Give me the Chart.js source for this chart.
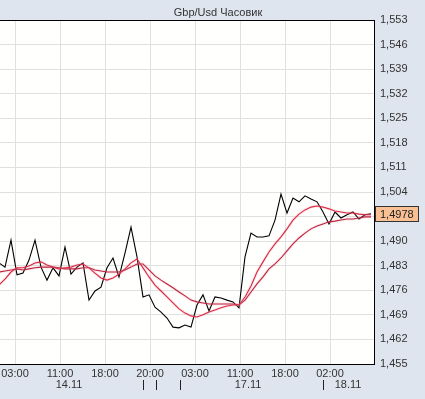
<!DOCTYPE html>
<html>
<head>
<meta charset="utf-8">
<script src="https://cdn.jsdelivr.net/npm/chart.js@4.4.0/dist/chart.umd.min.js"></script>
<style>
  html, body { margin: 0; padding: 0; background: #dfe5ee; }
  #wrap { width: 425px; height: 399px; }
</style>
</head>
<body>
<div id="wrap"><canvas id="chart" width="425" height="399"></canvas></div>
<script>
// Gbp/Usd hourly close + two moving averages
const TITLE = 'Gbp/Usd Часовик';

const PRICE = [
  1.4838, 1.4826, 1.4903, 1.4804, 1.4809, 1.4846, 1.4903, 1.4826, 1.4789, 1.4824,
  1.4801, 1.4883, 1.4806, 1.4826, 1.4838, 1.4732, 1.4758, 1.4769, 1.4824, 1.4852,
  1.4798, 1.4866, 1.4940, 1.4855, 1.4741, 1.4747, 1.4712, 1.4698, 1.4681, 1.4655,
  1.4653, 1.4661, 1.4655, 1.4718, 1.4747, 1.4701, 1.4741, 1.4738, 1.4732, 1.4727,
  1.4710, 1.4855, 1.4923, 1.4912, 1.4912, 1.4915, 1.4960, 1.5034, 1.4980, 1.5023,
  1.5012, 1.5029, 1.5020, 1.5012, 1.4983, 1.4949, 1.4983, 1.4966, 1.4975, 1.4983,
  1.4963, 1.4975, 1.4978,
];
const MA_FAST = [
  1.4775, 1.4792, 1.4812, 1.4824, 1.4824, 1.4829, 1.4838, 1.4841, 1.4832, 1.4826,
  1.4821, 1.4824, 1.4826, 1.4832, 1.4835, 1.4824, 1.4809, 1.4795, 1.4789, 1.4795,
  1.4806, 1.4821, 1.4838, 1.4849, 1.4824, 1.4798, 1.4775, 1.4758, 1.4741, 1.4724,
  1.4707, 1.4695, 1.4687, 1.4684, 1.4690, 1.4698, 1.4704, 1.4710, 1.4715, 1.4718,
  1.4718, 1.4741, 1.4772, 1.4812, 1.4841, 1.4869, 1.4892, 1.4912, 1.4935, 1.4960,
  1.4977, 1.4989, 1.4997, 1.5000, 1.4997, 1.4992, 1.4986, 1.4983, 1.4980, 1.4980,
  1.4977, 1.4975, 1.4975,
];
const MA_SLOW = [
  1.4812, 1.4815, 1.4818, 1.4821, 1.4818, 1.4821, 1.4824, 1.4826, 1.4826, 1.4826,
  1.4824, 1.4821, 1.4821, 1.4821, 1.4824, 1.4824, 1.4818, 1.4815, 1.4812, 1.4812,
  1.4812, 1.4818, 1.4826, 1.4835, 1.4835, 1.4818, 1.4801, 1.4789, 1.4778, 1.4767,
  1.4755, 1.4744, 1.4732, 1.4727, 1.4724, 1.4721, 1.4721, 1.4721, 1.4721, 1.4721,
  1.4718, 1.4732, 1.4755, 1.4778, 1.4798, 1.4821, 1.4835, 1.4852, 1.4872, 1.4892,
  1.4909, 1.4923, 1.4935, 1.4943, 1.4949, 1.4955, 1.4957, 1.4960, 1.4963, 1.4963,
  1.4966, 1.4969, 1.4969,
];

const Y_TICKS = [1.455, 1.462, 1.469, 1.476, 1.483, 1.490, 1.497, 1.504,
                 1.511, 1.518, 1.525, 1.532, 1.539, 1.546, 1.553];
// x positions are in bar index units
const TIME_LABELS = ['03:00', '11:00', '18:00', '20:00', '03:00', '11:00', '18:00', '02:00'];
const TIME_POS = [2.667, 10.167, 17.667, 25.167, 32.667, 40.167, 47.667, 55.167];
const DATE_LABELS = ['14.11', '17.11', '18.11'];
const DATE_POS = [11.67, 41.5, 58.17];
const DAY_MARKS = [24, 26.17, 30.17, 54];

const FONT = "'Liberation Sans', Arial, sans-serif";
const LAST = PRICE[PRICE.length - 1];
const fmt = (v, d) => v.toFixed(d).replace('.', ',');
const pts = (arr) => arr.map((y, i) => ({ x: i, y }));
const HALO = 'rgba(240,130,150,0.18)';

const frame = {
  id: 'frame',
  beforeDraw(chart) {
    const { ctx, chartArea: a } = chart;
    ctx.save();
    ctx.fillStyle = '#fffffd';
    ctx.fillRect(a.left, a.top, a.right - a.left, a.bottom - a.top);
    ctx.restore();
  },
  afterDraw(chart) {
    const { ctx, chartArea: a, scales } = chart;
    const x = scales.x, y = scales.y;
    ctx.save();
    // top border
    ctx.strokeStyle = '#000';
    ctx.lineWidth = 1;
    ctx.beginPath(); ctx.moveTo(a.left, a.top + 0.5); ctx.lineTo(a.right, a.top + 0.5); ctx.stroke();
    // title
    ctx.font = '11px ' + FONT;
    ctx.fillStyle = '#333';
    ctx.textAlign = 'center'; ctx.textBaseline = 'middle';
    ctx.fillText(TITLE, 218, 13);
    // date row + day separators
    DATE_LABELS.forEach((t, i) => ctx.fillText(t, x.getPixelForValue(DATE_POS[i]), 385));
    ctx.strokeStyle = '#222';
    DAY_MARKS.forEach((v) => {
      const px = Math.round(x.getPixelForValue(v)) + 0.5;
      ctx.beginPath(); ctx.moveTo(px, 380); ctx.lineTo(px, 390); ctx.stroke();
    });
    // last price marker
    const py = Math.round(y.getPixelForValue(LAST));
    ctx.fillStyle = '#f9c193';
    ctx.fillRect(375, py - 8, 44, 16);
    ctx.strokeStyle = '#333';
    ctx.strokeRect(375.5, py - 7.5, 43, 15);
    ctx.fillStyle = '#222';
    ctx.textAlign = 'left';
    ctx.fillText(fmt(LAST, 4), 380, py + 0.5);
    ctx.restore();
  },
};

new Chart(document.getElementById('chart'), {
  type: 'line',
  data: {
    datasets: [
      { data: pts(MA_SLOW), borderColor: HALO, borderWidth: 3 },
      { data: pts(MA_FAST), borderColor: HALO, borderWidth: 3 },
      { data: pts(MA_SLOW), borderColor: '#b0102a', borderWidth: 1.1 },
      { data: pts(MA_FAST), borderColor: '#d8142f', borderWidth: 1.1 },
      { data: pts(PRICE), borderColor: '#000', borderWidth: 1.1 },
    ],
  },
  options: {
    responsive: false,
    animation: false,
    layout: { padding: { left: 0, top: 20, right: 0, bottom: 0 } },
    elements: { point: { radius: 0 }, line: { tension: 0 } },
    plugins: { legend: { display: false }, tooltip: { enabled: false }, title: { display: false } },
    scales: {
      x: {
        type: 'linear', min: 1 / 6, max: 62.5,
        afterBuildTicks: (s) => { s.ticks = TIME_POS.map((v) => ({ value: v })); },
        afterFit: (s) => { s.height = 35; s.paddingLeft = 0; s.paddingRight = 0; },
        grid: { color: '#e0e0e0', drawTicks: false },
        border: { color: '#000', width: 1 },
        ticks: {
          autoSkip: false, maxRotation: 0, padding: 3, color: '#333',
          font: { family: FONT, size: 11 },
          callback: (v, i) => TIME_LABELS[i],
        },
      },
      y: {
        position: 'right', min: 1.455, max: 1.553,
        afterBuildTicks: (s) => { s.ticks = Y_TICKS.map((v) => ({ value: v })); },
        afterFit: (s) => { s.width = 51; },
        grid: { color: '#e0e0e0', drawTicks: false },
        border: { color: '#000', width: 1 },
        ticks: {
          padding: 6, color: '#333',
          font: { family: FONT, size: 11 },
          callback: (v) => (Math.abs(v - LAST) < 0.0035 ? '' : fmt(v, 3)),
        },
      },
    },
  },
  plugins: [frame],
});
</script>
</body>
</html>
